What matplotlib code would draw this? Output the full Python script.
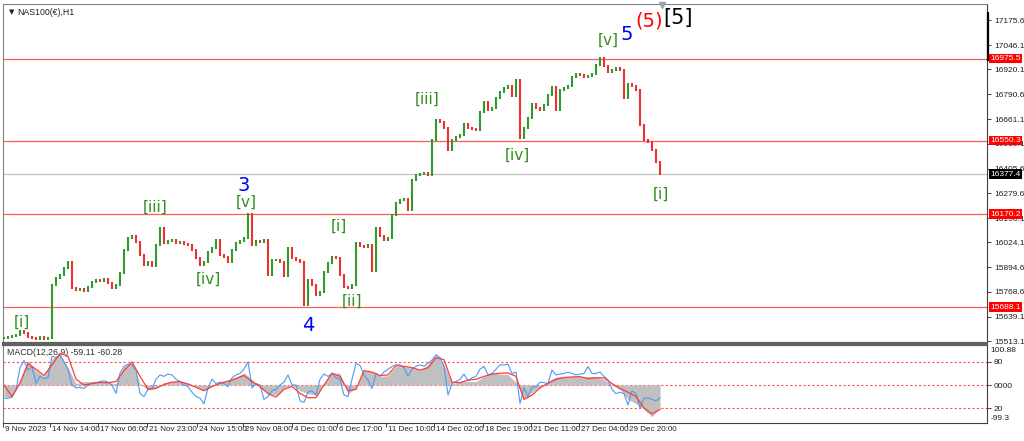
import numpy as np
import matplotlib
matplotlib.use("Agg")
import matplotlib.pyplot as plt
from matplotlib.transforms import blended_transform_factory

# ---------------- data ----------------
closes = [
    15529, 15534, 15539, 15544, 15565, 15555, 15534, 15529, 15524, 15534,
    15524, 15529, 15803, 15839, 15855, 15891, 15922, 15788, 15777, 15782,
    15772, 15793, 15819, 15829, 15824, 15834, 15814, 15788, 15803, 15865,
    15984, 16047, 16057, 16026, 15959, 15907, 15922, 15902, 16010, 16098,
    16021, 16031, 16036, 16021, 16026, 16016, 16010, 15984, 15943, 15907,
    15922, 15974, 15995, 16036, 15959, 15948, 15922, 15984, 16021, 16031,
    16047, 16171, 16010, 16031, 16026, 16036, 15855, 15933, 15933, 15922,
    15850, 15995, 15943, 15933, 15922, 15700, 15829, 15803, 15751, 15767,
    15870, 15917, 15948, 15943, 15855, 15793, 15787, 15803, 16021, 16005,
    16000, 16010, 15880, 16098, 16057, 16036, 16047, 16166, 16228, 16243,
    16249, 16192, 16347, 16373, 16378, 16383, 16373, 16554, 16658, 16647,
    16616, 16502, 16554, 16570, 16580, 16637, 16616, 16611, 16606, 16699,
    16751, 16710, 16720, 16772, 16803, 16823, 16834, 16782, 16865, 16565,
    16616, 16668, 16741, 16720, 16710, 16735, 16787, 16829, 16710, 16813,
    16823, 16834, 16880, 16896, 16891, 16880, 16886, 16896, 16943, 16979,
    16937, 16906, 16917, 16927, 16917, 16772, 16844, 16834, 16813, 16632,
    16554, 16544, 16502, 16440, 16377.4,
]

# MACD main (grey histogram) and signal (red) sampled every 2 bars
macd_main = [
    -40, -45, 20, 85, 50, 29, 90, 110, 60, 5,
    12, 12, 12, 8, 5, 64, 75, 5, -17, -10,
    8, 12, 12, 8, -5, -20, -5, 10, 18, 28,
    42, 20, -10, -30, -35, -10, 0, -20, -30, -35,
    5, 41, 41, -30, -10, 52, 45, 30, 32, 64,
    64, 58, 52, 70, 105, 70, 5, 12, 12, 12,
    30, 41, 38, 36, 10, -50, -25, -5, 12, 28,
    29, 29, 29, 29, 29, 20, 0, -15, -50, -65,
    -85, -110, -80,
]
macd_signal = [
    0, -40, 6, 75, 55, 33, 70, 110, 100, 20,
    0, 5, 9, 8, 12, 50, 80, 30, -15, -12,
    2, 10, 12, 3, -8, -20, -5, 6, 13, 22,
    33, 12, -5, -30, -42, -15, -5, -29, -44, -44,
    0, 41, 30, -20, -15, 50, 45, 33, 35, 67,
    65, 60, 52, 60, 95, 88, 10, 8, 17, 20,
    30, 38, 41, 42, 30, -50, -35, -10, 6, 20,
    26, 28, 29, 22, 25, 25, 5, -12, -25, -40,
    -80, -100, -85,
]
# blue fast line, one value per bar
macd_fast = [
    -46, -46, -40, -17, 60, 85, 52, 64, 6, 30,
    23, 25, 100, 95, 104, 80, 55, 0, -10, -8,
    -12, 0, 5, 8, 12, 15, 10, 0, -29, 41,
    65, 72, 70, 50, -30, -40, -15, -12, 20, 35,
    30, 38, 35, 20, 12, 0, -5, -25, -40, -46,
    -65, -10, 20, 5, 10, 5, -6, 25, 35, 40,
    55, 81, -10, 5, 0, -50, -40, -20, -15, 0,
    10, 35, 0, 0, -55, -60, -25, -20, -35, 20,
    38, 30, 40, 25, 20, -35, -40, 20, 75, 68,
    35, 17, -12, 40, 30, 45, 55, 64, 70, 70,
    60, 30, 55, 65, 70, 65, 75, 87, 105, 95,
    65, -35, 5, 12, 20, 38, 15, 25, 30, 55,
    65, 35, 40, 55, 70, 70, 72, 40, 45, -64,
    -10, -40, -8, -5, 10, 8, 5, 52, 35, 38,
    40, 45, 40, 35, 38, 40, 64, 40, 40, 45,
    30, 18, -15, -30, -25, -30, -70, -20, -30, -81,
    -45, -45, -50, -55, -45,
]

levels = [16975.5, 16550.3, 16170.2, 15688.1]
last_price = 16377.4
price_ticks = [17175.6, 17046.1, 16920.1, 16790.6, 16661.1, 16535.1, 16405.6,
               16279.6, 16150.1, 16024.1, 15894.6, 15768.6, 15639.1, 15513.1]
time_labels = ["9 Nov 2023", "14 Nov 14:00", "17 Nov 06:00", "21 Nov 23:00",
               "24 Nov 15:00", "29 Nov 08:00", "4 Dec 01:00", "6 Dec 17:00",
               "11 Dec 10:00", "14 Dec 02:00", "18 Dec 19:00", "21 Dec 11:00",
               "27 Dec 04:00", "29 Dec 20:00"]
time_ticks = [-0.25, 11.5, 23.5, 35.75, 48.25, 59.75, 72, 83.25, 95.5, 107.5,
              119.75, 131.75, 143.75, 155.75]

GREEN_T = "#2f8f1f"
wave_labels = [
    ("[i]", 4.5, 15611, GREEN_T, 11),
    ("[iii]", 37.75, 16207, GREEN_T, 11),
    ("[iv]", 51, 15834, GREEN_T, 11),
    ("[v]", 60.5, 16233, GREEN_T, 11),
    ("3", 60, 16316, "#0000ff", 14),
    ("4", 76, 15596, "#0000ff", 14),
    ("[i]", 83.75, 16109, GREEN_T, 11),
    ("[ii]", 87, 15720, GREEN_T, 11),
    ("[iii]", 105.75, 16766, GREEN_T, 11),
    ("[iv]", 128.25, 16476, GREEN_T, 11),
    ("[v]", 151, 17072, GREEN_T, 11),
    ("5", 155.75, 17103, "#0000ff", 14),
    ("(5)", 161.25, 17170, "#ff0000", 14),
    ("[5]", 168.5, 17186, "#000000", 15),
    ("[i]", 164.25, 16274, GREEN_T, 11),
]

AX_FONT = "Liberation Sans"
AX_FS = 6.0

# ---------------- figure ----------------
W, H = 1024, 441
fig = plt.figure(figsize=(W / 100, H / 100), dpi=100)
fig.patch.set_facecolor("white")

def fx(px):
    return px / W

def fy(py):
    return 1 - py / H

ax = fig.add_axes([fx(3), fy(343), fx(984), 339 / H])
mx = fig.add_axes([fx(3), fy(423), fx(984), 78 / H])

xmin, xmax = -0.25, 245.75
for a in (ax, mx):
    a.set_xlim(xmin, xmax)
    a.set_facecolor("white")
    for s in a.spines.values():
        s.set_color("#808080")
        s.set_linewidth(0.8)

ax.set_ylim(15502.8, 17258.5)
mx.set_ylim(-132, 139)
ax.spines["bottom"].set_color("#606060")
ax.spines["bottom"].set_linewidth(1.6)
mx.spines["top"].set_color("#606060")
mx.spines["top"].set_linewidth(1.6)
ax.spines["right"].set_color("#404040")
mx.spines["right"].set_color("#404040")
mx.spines["bottom"].set_color("#404040")

# level lines
for lv in levels:
    ax.axhline(lv, color="#ff5a5a", lw=0.9, zorder=1)
ax.axhline(last_price, color="#c0c0c0", lw=0.9, zorder=1)

# candles
c = np.array(closes, dtype=float)
o = np.concatenate([[c[0]], c[:-1]])
x = np.arange(len(c))
up = c >= o
hi = np.maximum(o, c) + 7
lo = np.minimum(o, c) - 7
ax.vlines(x[up], lo[up], hi[up], colors="#2e9a2e", lw=1.5, zorder=3)
ax.vlines(x[~up], lo[~up], hi[~up], colors="#f03030", lw=1.5, zorder=3)

# wave labels
for txt, xi, yv, col, fs in wave_labels:
    ax.text(xi, yv, txt, color=col, fontsize=fs, ha="center", va="center",
            family="DejaVu Sans", zorder=5)

# price axis on the right
ax.yaxis.tick_right()
ax.set_yticks(price_ticks)
ax.set_yticklabels([f"{p:.1f}" for p in price_ticks], fontsize=AX_FS,
                   color="#202020", family=AX_FONT)
ax.tick_params(axis="y", length=3, width=0.7, pad=2, color="#404040")
ax.set_xticks([])

ytr = ax.get_yaxis_transform()
for lv in levels:
    ax.text(1.0035, lv, f"{lv:.1f}", transform=ytr, ha="left", va="center",
            fontsize=AX_FS, color="white", zorder=6, clip_on=False, family=AX_FONT,
            bbox=dict(boxstyle="square,pad=0.15", fc="#ff0000", ec="none"))
ax.text(1.0035, last_price, f"{last_price:.1f}", transform=ytr, ha="left",
        va="center", fontsize=AX_FS, color="white", zorder=6, clip_on=False,
        family=AX_FONT,
        bbox=dict(boxstyle="square,pad=0.15", fc="#000000", ec="none"))
ax.plot([1.0012, 1.0012], [17212, 16968], transform=ytr, color="black",
        lw=1.6, clip_on=False, zorder=6)

# title
ax.text(0.006, 0.985, "\u25bc", transform=ax.transAxes, fontsize=5,
        va="top", ha="left", color="#202020")
ax.text(0.014, 0.988, "NAS100(\u20ac),H1", transform=ax.transAxes,
        fontsize=6.3, va="top", ha="left", color="#202020", family=AX_FONT)
# shift marker
ax.plot([(662 - 4) / 4], [17255], marker="v", color="#a0a0a0", ms=5,
        clip_on=False, zorder=6)

# ---------------- MACD ----------------
xm = np.arange(len(macd_main)) * 2
mx.fill_between(xm, 0, macd_main, color="#c0c0c0", lw=0, zorder=2)
mx.plot(np.arange(len(macd_fast)), macd_fast, color="#4a9bf5", lw=0.8, zorder=3)
mx.plot(xm, macd_signal, color="#ff3a3a", lw=0.9, zorder=4)
for lvl in (80, 0, -80):
    mx.axhline(lvl, color="#ff5050", lw=0.8, ls=(0, (2, 2)), zorder=1)

mx.yaxis.tick_right()
mx.set_yticks([80, 0, -80])
mx.set_yticklabels(["80", "0000", "20"], fontsize=AX_FS, color="#202020",
                   family=AX_FONT)
mx.tick_params(axis="y", length=3, width=0.7, pad=2, color="#404040")
mx.text(1.0035, 0.93, "100.88", transform=mx.transAxes, fontsize=AX_FS,
        ha="left", va="center", color="#202020", clip_on=False, family=AX_FONT)
mx.text(1.0035, 0.06, "-99.3", transform=mx.transAxes, fontsize=AX_FS,
        ha="left", va="center", color="#202020", clip_on=False, family=AX_FONT)
mx.text(0.004, 0.9, "MACD(12,26,9) -59.11 -60.28", transform=mx.transAxes,
        fontsize=6.3, ha="left", va="center", color="#303030", family=AX_FONT)

# time axis
mx.set_xticks(time_ticks)
mx.set_xticklabels([""] * len(time_ticks))
mx.tick_params(axis="x", length=3, width=0.7, color="#404040")
xtr = blended_transform_factory(mx.transData, mx.transAxes)
for t, lab in zip(time_ticks, time_labels):
    mx.text(t + 0.4, -0.085, lab, transform=xtr, fontsize=5.8, ha="left",
            va="center", color="#202020", clip_on=False, family=AX_FONT)

fig.savefig("out.png", dpi=100, facecolor="white")
